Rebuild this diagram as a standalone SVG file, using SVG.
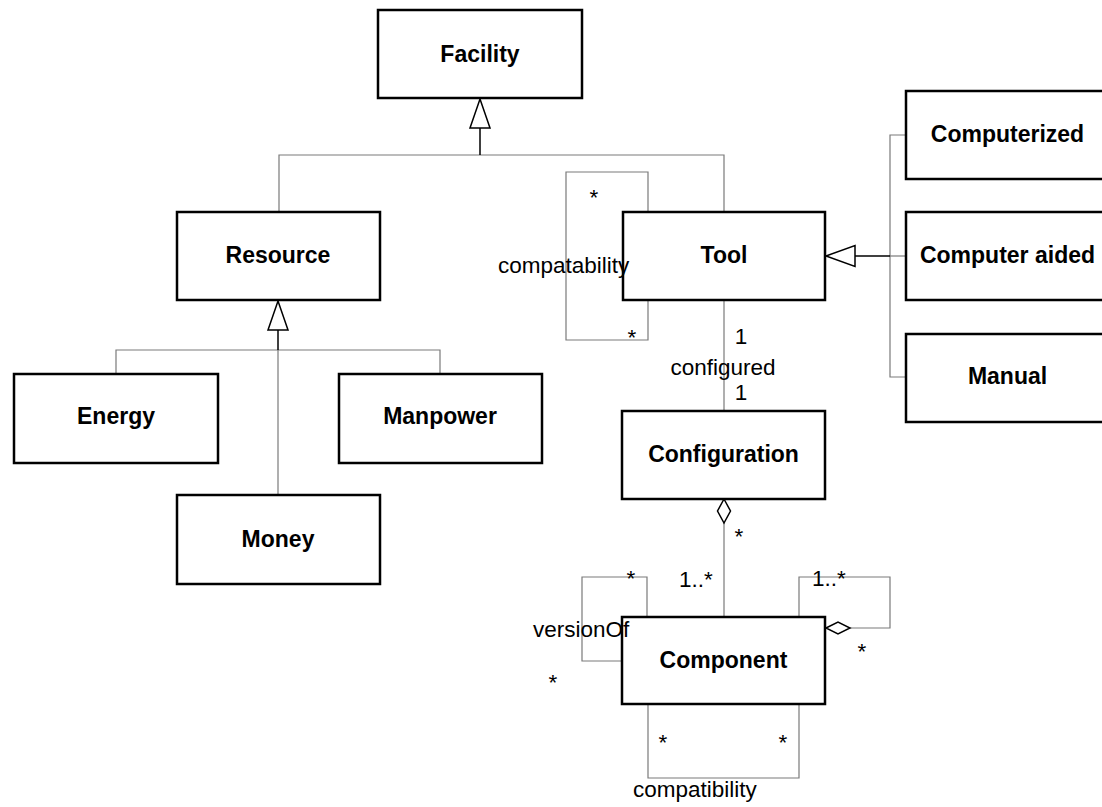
<svg xmlns="http://www.w3.org/2000/svg" width="1102" height="807" viewBox="0 0 1102 807">
  <style>
    .box { fill: #ffffff; stroke: #000000; stroke-width: 2.5; }
    .name { font-family: "Liberation Sans", Arial, sans-serif; font-weight: bold; font-size: 23px; text-anchor: middle; fill: #000000; }
    .lbl { font-family: "Liberation Sans", Arial, sans-serif; font-size: 22.5px; fill: #000000; }
    .mid { text-anchor: middle; }
    .wire { fill: none; stroke: #7a7a7a; stroke-width: 1.2; }
    .stem { fill: none; stroke: #000000; stroke-width: 1.5; }
    .head { fill: #ffffff; stroke: #000000; stroke-width: 1.5; }
  </style>
  <rect width="1102" height="807" fill="#ffffff"/>

  <!-- connectors -->
  <g id="connectors">
    <!-- Facility generalization -->
    <polyline class="wire" points="279,212 279,155 724,155 724,212"/>
    <line class="stem" x1="480" y1="128" x2="480" y2="155"/>
    <polygon class="head" points="480,99 490,128 470,128"/>

    <!-- Resource generalization -->
    <polyline class="wire" points="116,374 116,350 440,350 440,374"/>
    <line class="stem" x1="278" y1="330" x2="278" y2="350"/>
    <line class="wire" x1="278" y1="350" x2="278" y2="495"/>
    <polygon class="head" points="278,301 288,330 268,330"/>

    <!-- Tool generalization -->
    <polyline class="wire" points="906,135 890,135 890,377 906,377"/>
    <line class="stem" x1="855" y1="256" x2="890" y2="256"/>
    <line class="wire" x1="890" y1="256" x2="906" y2="256"/>
    <polygon class="head" points="826,256 855,245.5 855,266.5"/>

    <!-- Tool self association: compatability -->
    <polyline class="wire" points="648,212 648,172 566,172 566,340 648,340 648,300"/>

    <!-- Tool - Configuration: configured -->
    <line class="wire" x1="724" y1="300" x2="724" y2="411"/>

    <!-- Configuration aggregates Component -->
    <line class="wire" x1="724" y1="523" x2="724" y2="617"/>
    <polygon class="head" points="724,499 730.5,511 724,523 717.5,511"/>

    <!-- Component self association: versionOf -->
    <polyline class="wire" points="647,617 647,577 582,577 582,661 622,661"/>

    <!-- Component self aggregation -->
    <polyline class="wire" points="799,617 799,577 890,577 890,628 850,628"/>
    <polygon class="head" points="826,628 838,622 850,628 838,634"/>

    <!-- Component self association: compatibility -->
    <polyline class="wire" points="648,704 648,778 799,778 799,704"/>
  </g>

  <!-- nodes -->
  <g id="facility">
    <rect class="box" x="378" y="10" width="204" height="88"/>
    <text class="name" x="480" y="62">Facility</text>
  </g>
  <g id="resource">
    <rect class="box" x="177" y="212" width="203" height="88"/>
    <text class="name" x="278" y="263">Resource</text>
  </g>
  <g id="tool">
    <rect class="box" x="623" y="212" width="202" height="88"/>
    <text class="name" x="724" y="263">Tool</text>
  </g>
  <g id="energy">
    <rect class="box" x="14" y="374" width="204" height="89"/>
    <text class="name" x="116" y="424">Energy</text>
  </g>
  <g id="manpower">
    <rect class="box" x="339" y="374" width="203" height="89"/>
    <text class="name" x="440" y="424">Manpower</text>
  </g>
  <g id="money">
    <rect class="box" x="177" y="495" width="203" height="89"/>
    <text class="name" x="278" y="547">Money</text>
  </g>
  <g id="computerized">
    <rect class="box" x="906" y="91" width="203" height="88"/>
    <text class="name" x="1007.5" y="142">Computerized</text>
  </g>
  <g id="computer-aided">
    <rect class="box" x="906" y="212" width="203" height="88"/>
    <text class="name" x="1007.5" y="263">Computer aided</text>
  </g>
  <g id="manual">
    <rect class="box" x="906" y="334" width="203" height="88"/>
    <text class="name" x="1007.5" y="384">Manual</text>
  </g>
  <g id="configuration">
    <rect class="box" x="622" y="411" width="203" height="88"/>
    <text class="name" x="723.5" y="462">Configuration</text>
  </g>
  <g id="component">
    <rect class="box" x="622" y="617" width="203" height="87"/>
    <text class="name" x="723.5" y="668">Component</text>
  </g>

  <!-- association labels and multiplicities -->
  <g id="labels">
    <text class="lbl mid" x="594" y="205">*</text>
    <text class="lbl mid" x="632" y="345">*</text>
    <text class="lbl" x="498" y="273">compatability</text>

    <text class="lbl mid" x="741" y="344">1</text>
    <text class="lbl mid" x="723" y="375">configured</text>
    <text class="lbl mid" x="741" y="400">1</text>

    <text class="lbl mid" x="739" y="544">*</text>
    <text class="lbl" x="679" y="587">1..*</text>

    <text class="lbl mid" x="631" y="586">*</text>
    <text class="lbl" x="533" y="637">versionOf</text>
    <text class="lbl mid" x="553" y="690">*</text>

    <text class="lbl" x="812" y="586">1..*</text>
    <text class="lbl mid" x="862" y="659">*</text>

    <text class="lbl mid" x="663" y="750">*</text>
    <text class="lbl mid" x="783" y="750">*</text>
    <text class="lbl" x="633" y="797">compatibility</text>
  </g>
</svg>
